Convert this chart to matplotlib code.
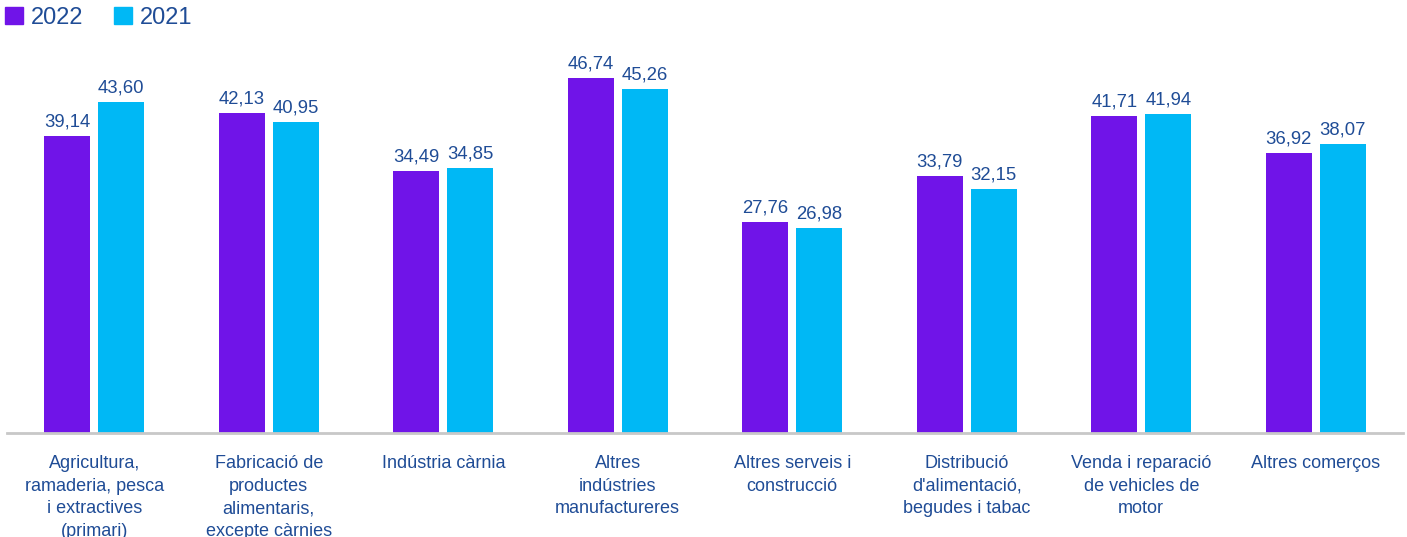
import matplotlib
matplotlib.use("Agg")
import matplotlib.pyplot as plt
import numpy as np
from matplotlib.patches import Patch

categories = [
    "Agricultura,\nramaderia, pesca\ni extractives\n(primari)",
    "Fabricació de\nproductes\nalimentaris,\nexcepte càrnies",
    "Indústria càrnia",
    "Altres\nindústries\nmanufactureres",
    "Altres serveis i\nconstrucció",
    "Distribució\nd'alimentació,\nbegudes i tabac",
    "Venda i reparació\nde vehicles de\nmotor",
    "Altres comerços",
]
series_names = ["2022", "2021"]
values_2022 = [39.14, 42.13, 34.49, 46.74, 27.76, 33.79, 41.71, 36.92]
values_2021 = [43.60, 40.95, 34.85, 45.26, 26.98, 32.15, 41.94, 38.07]

c22 = "#7014E8"
c21 = "#00B8F5"
txt = "#1F4C96"

plt.rcParams['font.family'] = ['Liberation Sans', 'DejaVu Sans']

W, H = 1407, 537
fig = plt.figure(figsize=(W / 100, H / 100), dpi=100)
ax = fig.add_axes([7 / W, (H - 433) / H, 1396 / W, (433 - 40) / H])

x = np.arange(len(categories))
bw = 0.264
off = 0.155
b1 = ax.bar(x - off, values_2022, bw, color=c22)
b2 = ax.bar(x + off, values_2021, bw, color=c21)

def fmt(v):
    return f"{v:.2f}".replace(".", ",")

for bars, vals in ((b1, values_2022), (b2, values_2021)):
    for b, v in zip(bars, vals):
        ax.annotate(fmt(v), (b.get_x() + b.get_width() / 2, v),
                    xytext=(0, 4), textcoords="offset points",
                    ha="center", va="bottom", fontsize=13.3, color=txt)

ax.set_xlim(-0.5, len(categories) - 0.5)
ax.set_ylim(0, (433 - 40) / 7.595)
for s in ["top", "right", "left"]:
    ax.spines[s].set_visible(False)
ax.spines["bottom"].set_color("#C8C8C8")
ax.spines["bottom"].set_linewidth(2)
ax.set_yticks([])
ax.set_xticks(x)
ax.set_xticklabels(categories, fontsize=13, color=txt, linespacing=1.42, va="top")
ax.tick_params(axis="x", length=0, pad=16)

handles = [Patch(color=c22), Patch(color=c21)]
fig.legend(handles, series_names, loc="upper left", bbox_to_anchor=(5 / W, 1 - 7 / H),
           ncol=2, frameon=False, fontsize=17, labelcolor=txt,
           borderaxespad=0, borderpad=0,
           handlelength=0.75, handleheight=0.75, handletextpad=0.35, columnspacing=1.3)

fig.savefig("out.png", dpi=100)
